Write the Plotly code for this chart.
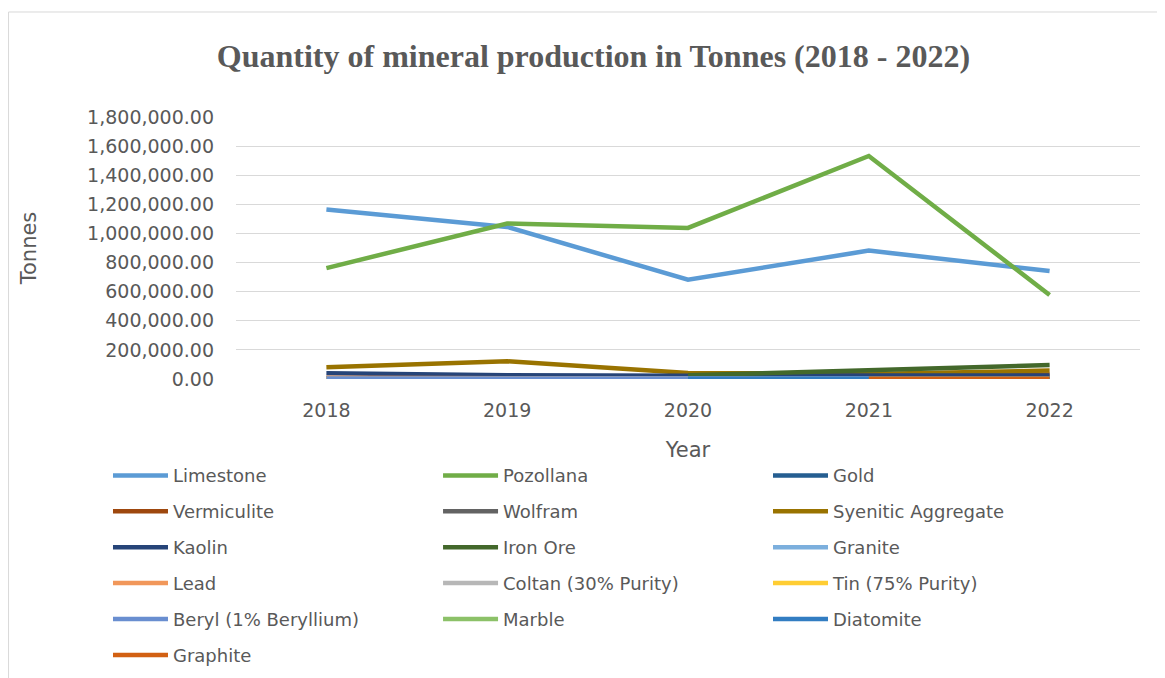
import plotly.graph_objects as go

# годы и значения (тонны)
years = ["2018", "2019", "2020", "2021", "2022"]

limestone = [1165000, 1045000, 682000, 882000, 742000]
pozollana = [762000, 1068000, 1038000, 1532000, 577000]
gold = [4000, 3000, 3000, 3000, 4000]
vermiculite = [3000, 3000, 3000, 6000, 31000]
wolfram = [1000, 1000, 1000, 1000, 1000]
syenitic = [80000, 122000, 42000, 35000, 58000]
kaolin = [39000, 25000, 23000, 22000, 24000]
iron_ore = [None, None, 25000, 62000, 96000]
granite = [6000, 5000, 5000, 5000, 5000]
lead = [9000, 2000, 2000, 2000, 2000]
coltan = [500, 500, 500, 500, 500]
tin = [500, 500, 500, 500, 500]
beryl = [3000, 3000, 3000, 3000, 3000]
marble = [None, None, None, 1000, 1000]
diatomite = [None, None, 2000, 2000, 2000]
graphite = [None, None, None, 2000, 2000]

# (название, значения, цвет, колонка легенды)
series = [
    ("Limestone", limestone, "#5B9BD5", 1),
    ("Pozollana", pozollana, "#70AD47", 2),
    ("Gold", gold, "#255E91", 3),
    ("Vermiculite", vermiculite, "#9E480E", 1),
    ("Wolfram", wolfram, "#636363", 2),
    ("Syenitic Aggregate", syenitic, "#997300", 3),
    ("Kaolin", kaolin, "#264478", 1),
    ("Iron Ore", iron_ore, "#43682B", 2),
    ("Granite", granite, "#7CAFDD", 3),
    ("Lead", lead, "#F1975A", 1),
    ("Coltan (30% Purity)", coltan, "#B7B7B7", 2),
    ("Tin (75% Purity)", tin, "#FFCD33", 3),
    ("Beryl (1% Beryllium)", beryl, "#698ED0", 1),
    ("Marble", marble, "#8CC168", 2),
    ("Diatomite", diatomite, "#327DC2", 3),
    ("Graphite", graphite, "#D26012", 1),
]

TXT = "#595959"
FONT = "DejaVu Sans"

fig = go.Figure()
for name, vals, color, col in series:
    fig.add_trace(go.Scatter(
        x=years, y=vals, name=name, mode="lines",
        line=dict(color=color, width=4.5),
        legend="legend" if col == 1 else "legend%d" % col,
        legendgroup=name,
    ))

leg = dict(orientation="v", yanchor="top", y=-0.2985, xanchor="left",
           font=dict(family=FONT, size=18, color=TXT),
           tracegroupgap=9.5, itemwidth=55, bgcolor="rgba(0,0,0,0)")

# страница сдвинута на 8px (отступ body), поэтому размеры чуть меньше окна
fig.update_layout(
    width=1157, height=670,
    margin=dict(l=228, r=25, t=109, b=299, autoexpand=False),
    paper_bgcolor="white", plot_bgcolor="white",
    title=dict(text="<b>Quantity of mineral production in Tonnes (2018 - 2022)</b>",
               x=0.506, xanchor="center", y=0.929, yanchor="middle",
               font=dict(family="Liberation Serif", size=32, color=TXT)),
    legend=dict(leg, x=-0.1416),
    legend2=dict(leg, x=0.2235),
    legend3=dict(leg, x=0.5885),
)

fig.update_xaxes(
    type="category", range=[-0.5, 4.5], showgrid=False, showline=False, ticks="",
    ticklabelstandoff=18,
    tickfont=dict(family=FONT, size=19, color=TXT),
    title=dict(text="Year", standoff=22, font=dict(family=FONT, size=21, color=TXT)),
)
fig.update_yaxes(
    range=[0, 1800000], dtick=200000, tickformat=",.2f",
    showgrid=True, gridcolor="#D9D9D9", gridwidth=1, zeroline=False,
    showline=False, ticks="", ticklabelstandoff=21,
    tickfont=dict(family=FONT, size=19, color=TXT),
    title=dict(text="Tonnes", standoff=44, font=dict(family=FONT, size=21, color=TXT)),
)

# рамка области диаграммы
fig.add_shape(type="rect", xref="paper", yref="paper",
              x0=-0.2516, x1=1.04, y0=-1.3, y1=1.4008,
              line=dict(color="#D9D9D9", width=1), fillcolor="rgba(0,0,0,0)")

fig.write_html("out.html")
